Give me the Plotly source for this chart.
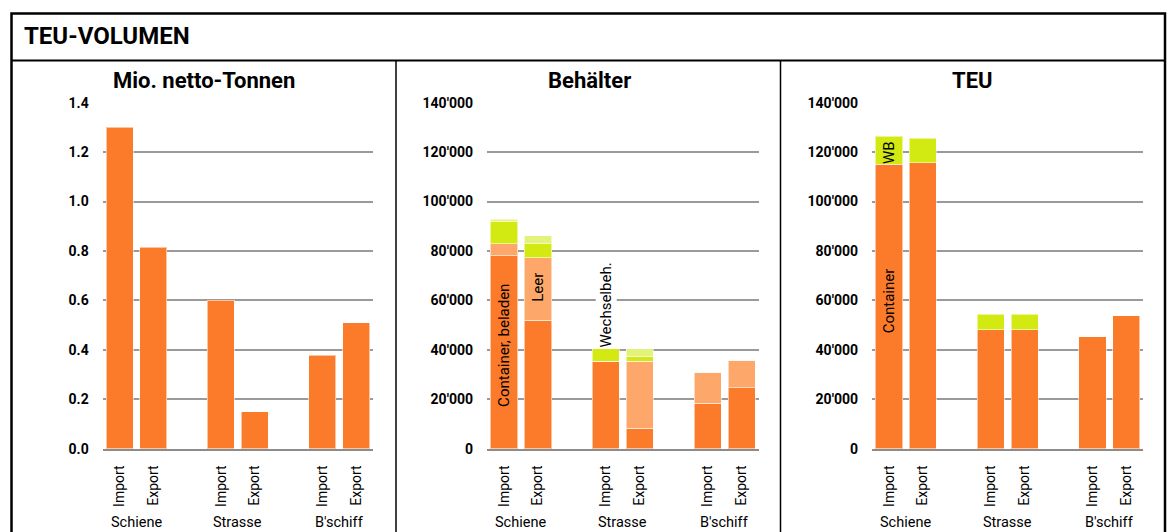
import plotly.graph_objects as go

# Slot layout: Import/Export pairs per mode, with an empty slot between modes
slots = [0, 1, 3, 4, 6, 7]
flow_labels = ["Import", "Export", "Import", "Export", "Import", "Export"]
modes = ["Schiene", "Strasse", "B'schiff"]
mode_centers = [0.5, 3.5, 6.5]

# Mio. netto-Tonnen
tonnen = [1.30, 0.815, 0.60, 0.15, 0.378, 0.51]

# Behälter (Anzahl)
beh_container_beladen = [78000, 52000, 35300, 8200, 18300, 24600]
beh_container_leer = [4900, 25300, 0, 27100, 12700, 11200]
beh_wb_beladen = [9200, 5700, 5100, 2100, 0, 0]
beh_wb_leer = [800, 3100, 0, 3000, 0, 0]

# TEU
teu_container = [115000, 115700, 48200, 48200, 45300, 53700]
teu_wb = [11500, 9900, 6300, 6300, 0, 0]

ton_ticks = [0, 0.2, 0.4, 0.6, 0.8, 1.0, 1.2, 1.4]
ton_ticktext = ["0.0", "0.2", "0.4", "0.6", "0.8", "1.0", "1.2", "1.4"]
count_ticks = [0, 20000, 40000, 60000, 80000, 100000, 120000, 140000]
count_ticktext = ["0", "20'000", "40'000", "60'000", "80'000", "100'000", "120'000", "140'000"]

ORANGE = "#FC7B2B"
ORANGE_LIGHT = "#FDA86A"
GREEN = "#D3E912"
GREEN_LIGHT = "#E3F27A"
EDGE = dict(color="rgba(255,255,255,0.55)", width=1)

W, H = 1170, 532
FONT = "Roboto"


def px(x):
    return x / W


def py(y):
    return 1 - y / H


fig = go.Figure()

fig.add_trace(go.Bar(x=slots, y=tonnen, width=0.8, marker=dict(color=ORANGE, line=EDGE),
                     xaxis="x", yaxis="y", showlegend=False))

for vals, col in [(beh_container_beladen, ORANGE), (beh_container_leer, ORANGE_LIGHT),
                  (beh_wb_beladen, GREEN), (beh_wb_leer, GREEN_LIGHT)]:
    fig.add_trace(go.Bar(x=slots, y=vals, width=0.8, marker=dict(color=col, line=EDGE),
                         xaxis="x2", yaxis="y2", showlegend=False))

for vals, col in [(teu_container, ORANGE), (teu_wb, GREEN)]:
    fig.add_trace(go.Bar(x=slots, y=vals, width=0.8, marker=dict(color=col, line=EDGE),
                         xaxis="x3", yaxis="y3", showlegend=False))

y_dom = [py(448.7), py(102.7)]
x_doms = [[px(102.7), px(373)], [px(487), px(758.7)], [px(872), px(1143.3)]]

xaxis_common = dict(
    range=[-0.5, 7.5], tickmode="array", tickvals=slots, ticktext=flow_labels,
    tickangle=-90, tickfont=dict(family=FONT, size=14, color="black"),
    showgrid=False, zeroline=False, showline=True, linecolor="#8c8c8c", linewidth=2,
    ticks="", ticklabelstandoff=9, fixedrange=True, automargin=False,
)
yaxis_common = dict(
    showgrid=True, gridcolor="#9a9a9a", gridwidth=2, zeroline=False, showline=False,
    ticks="", tickfont=dict(family=FONT, size=14, color="black", weight="bold"),
    ticklabelstandoff=13, domain=y_dom, fixedrange=True, automargin=False,
)

layout = dict(
    width=W, height=H, margin=dict(l=0, r=0, t=0, b=0, pad=0, autoexpand=False),
    paper_bgcolor="white", plot_bgcolor="white", barmode="stack", bargap=0.2,
    showlegend=False,
)
for i, dom in enumerate(x_doms):
    suffix = "" if i == 0 else str(i + 1)
    layout["xaxis" + suffix] = dict(xaxis_common, domain=dom, anchor="y" + suffix)
layout["yaxis"] = dict(yaxis_common, range=[0, 1.4], tickvals=ton_ticks, ticktext=ton_ticktext, anchor="x")
layout["yaxis2"] = dict(yaxis_common, range=[0, 140000], tickvals=count_ticks, ticktext=count_ticktext, anchor="x2")
layout["yaxis3"] = dict(yaxis_common, range=[0, 140000], tickvals=count_ticks, ticktext=count_ticktext, anchor="x3")
fig.update_layout(**layout)

# Frame: outer box, header rule, panel dividers
shapes = [
    dict(type="rect", xref="paper", yref="paper", x0=px(11.5), x1=px(1165), y0=py(545), y1=py(13.5),
         line=dict(color="black", width=2.5)),
    dict(type="line", xref="paper", yref="paper", x0=px(11.5), x1=px(1165), y0=py(60.5), y1=py(60.5),
         line=dict(color="black", width=2)),
    dict(type="line", xref="paper", yref="paper", x0=px(396), x1=px(396), y0=py(60.5), y1=py(545),
         line=dict(color="black", width=1.5)),
    dict(type="line", xref="paper", yref="paper", x0=px(780.5), x1=px(780.5), y0=py(60.5), y1=py(545),
         line=dict(color="black", width=1.5)),
]
fig.update_layout(shapes=shapes)

annotations = [
    dict(text="TEU-VOLUMEN", x=px(22), y=py(36), xref="paper", yref="paper", xanchor="left",
         yanchor="middle", showarrow=False, font=dict(family=FONT, size=24, color="black", weight="bold")),
]
for title, cx in [("Mio. netto-Tonnen", 204), ("Behälter", 589), ("TEU", 972)]:
    annotations.append(dict(text=title, x=px(cx), y=py(80), xref="paper", yref="paper",
                            xanchor="center", yanchor="middle", showarrow=False,
                            font=dict(family=FONT, size=22, color="black", weight="bold")))

for xr in ["x", "x2", "x3"]:
    for name, c in zip(modes, mode_centers):
        annotations.append(dict(text=name, x=c, y=py(522), xref=xr, yref="paper",
                                xanchor="center", yanchor="middle", showarrow=False,
                                font=dict(family=FONT, size=14.5, color="black")))

# In-bar labels
inbar = [
    ("Container, beladen", "x2", "y2", 0, 42000, False),
    ("Leer", "x2", "y2", 1, 65500, False),
    ("Wechselbeh.", "x2", "y2", 3, 58300, True),
    ("WB", "x3", "y3", 0, 120000, False),
    ("Container", "x3", "y3", 0, 60000, False),
]
for text, xr, yr, xv, yv, boxed in inbar:
    annotations.append(dict(text=text, x=xv, y=yv, xref=xr, yref=yr, textangle=-90,
                            xanchor="center", yanchor="middle", showarrow=False,
                            bgcolor="white" if boxed else None, borderpad=1,
                            font=dict(family=FONT, size=15, color="black")))

fig.update_layout(annotations=annotations)

fig.write_html("out.html")
